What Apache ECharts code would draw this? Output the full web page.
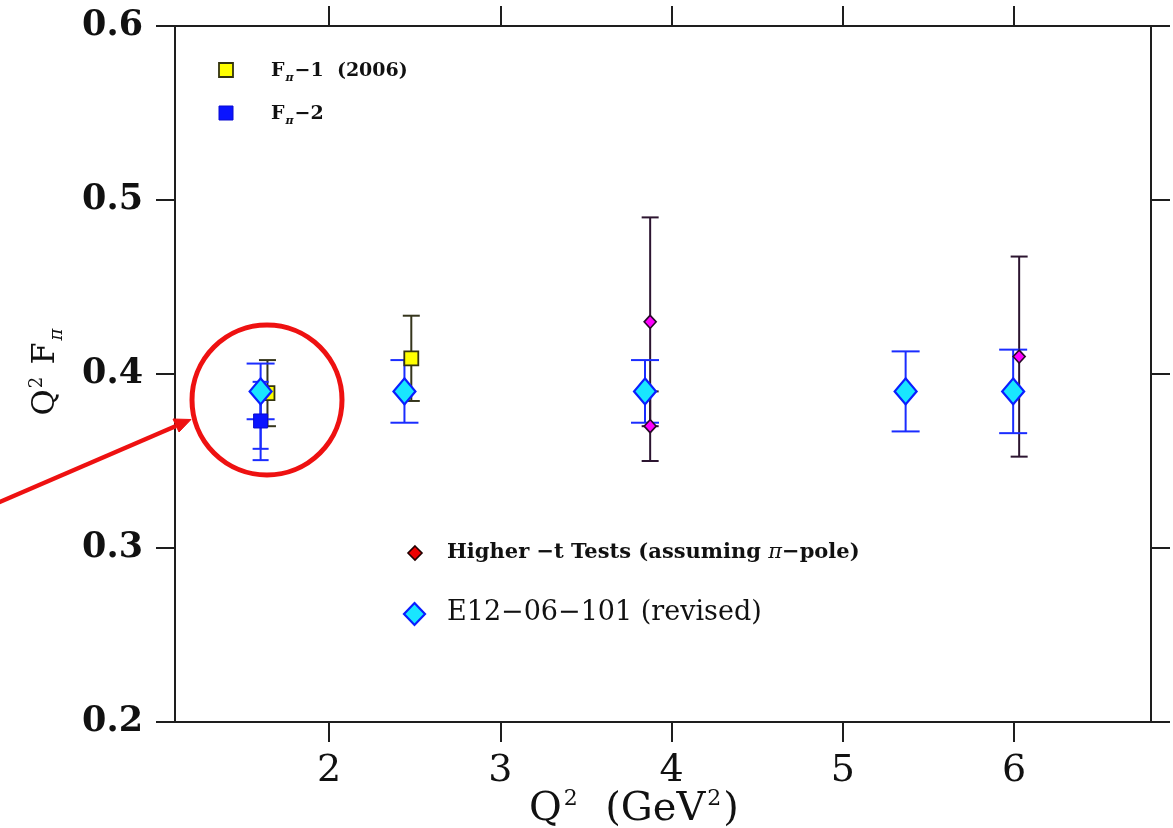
<!DOCTYPE html>
<html>
<head>
<meta charset="utf-8">
<title>Q2 F_pi</title>
<script src="https://cdn.jsdelivr.net/npm/echarts@6/dist/echarts.min.js"></script>
<style>
  html, body { margin: 0; padding: 0; background: #fff; }
  #chart { width: 1173px; height: 828px; }
</style>
</head>
<body>
<div id="chart"></div>
<script>
// Pion form factor Q^2 F_pi versus Q^2

// F_pi-1 (2006)
const fpi1Q2 = [1.64, 2.48];
const fpi1Val = [0.389, 0.409];
const fpi1Err = [0.019, 0.0245];

// F_pi-2 (inner and outer error bars)
const fpi2Q2 = [1.60];
const fpi2Val = [0.373];
const fpi2ErrInner = [0.016];
const fpi2ErrOuter = [0.0225];

// Higher -t tests (assuming pi-pole)
const highTQ2 = [3.875, 3.875, 6.03];
const highTVal = [0.430, 0.370, 0.410];
const highTErr = [0.060, 0.020, 0.0575];

// E12-06-101 (revised) projections
const e12Q2 = [1.60, 2.44, 3.845, 5.367, 5.995];
const e12Val = [0.390, 0.390, 0.390, 0.390, 0.390];
const e12Err = [0.016, 0.018, 0.018, 0.023, 0.024];

// axis ticks
const xTicks = [2, 3, 4, 5, 6];
const yTicks = [0.2, 0.3, 0.4, 0.5, 0.6];

const SERIF = '"DejaVu Serif", "Liberation Serif", serif';
const AXIS_COLOR = '#1e1e1e';

function points(xs, ys) {
  return xs.map((x, i) => [x, ys[i]]);
}
function bars(xs, ys, errs) {
  return xs.map((x, i) => [x, ys[i] - errs[i], ys[i] + errs[i]]);
}
function errorBars(cap, color, width) {
  return function (params, api) {
    const x = api.value(0);
    const lo = api.coord([x, api.value(1)]);
    const hi = api.coord([x, api.value(2)]);
    const style = { stroke: color, lineWidth: width };
    const h = cap / 2;
    return {
      type: 'group',
      children: [
        { type: 'line', shape: { x1: hi[0], y1: hi[1], x2: lo[0], y2: lo[1] }, style },
        { type: 'line', shape: { x1: hi[0] - h, y1: hi[1], x2: hi[0] + h, y2: hi[1] }, style },
        { type: 'line', shape: { x1: lo[0] - h, y1: lo[1], x2: lo[0] + h, y2: lo[1] }, style }
      ]
    };
  };
}
function errSeries(data, cap, color, width) {
  return {
    type: 'custom',
    renderItem: errorBars(cap, color, width),
    data: data,
    encode: { x: 0, y: [1, 2] },
    silent: true,
    clip: false
  };
}

const chart = echarts.init(document.getElementById('chart'), null, { renderer: 'canvas' });

const xAxisBase = {
  type: 'value',
  min: 1.1,
  max: 6.8,
  axisLine: { show: true, onZero: false, lineStyle: { color: AXIS_COLOR, width: 2 } },
  axisTick: { show: true, inside: false, length: 20, customValues: xTicks, lineStyle: { color: AXIS_COLOR, width: 2 } },
  splitLine: { show: false }
};
const yAxisBase = {
  type: 'value',
  min: yTicks[0],
  max: yTicks[yTicks.length - 1],
  interval: 0.1,
  axisLine: { show: true, onZero: false, lineStyle: { color: AXIS_COLOR, width: 2 } },
  axisTick: { show: true, inside: false, length: 19, lineStyle: { color: AXIS_COLOR, width: 2 } },
  splitLine: { show: false }
};

const subStyle = size => ({
  font: 'italic bold ' + size + 'px ' + SERIF,
  fill: '#111',
  padding: [Math.round(size * 1.4), 1, 0, 1]
});

const option = {
  backgroundColor: '#ffffff',
  animation: false,
  grid: { left: 175, right: 22, top: 26, bottom: 106, containLabel: false, outerBoundsMode: 'none' },
  xAxis: [
    Object.assign({}, xAxisBase, {
      position: 'bottom',
      axisLabel: {
        customValues: xTicks,
        margin: 30,
        color: '#111',
        fontFamily: SERIF,
        fontSize: 38,
        formatter: v => String(v)
      }
    }),
    Object.assign({}, xAxisBase, {
      position: 'top',
      axisLabel: { show: false }
    })
  ],
  yAxis: [
    Object.assign({}, yAxisBase, {
      position: 'left',
      axisLabel: {
        margin: 32,
        color: '#111',
        fontFamily: SERIF,
        fontWeight: 'bold',
        fontSize: 35,
        formatter: v => v.toFixed(1)
      }
    }),
    Object.assign({}, yAxisBase, {
      position: 'right',
      axisLabel: { show: false }
    })
  ],
  series: [
    errSeries(bars(fpi1Q2, fpi1Val, fpi1Err), 17, '#35351c', 2),
    {
      type: 'scatter',
      data: points(fpi1Q2, fpi1Val),
      symbol: 'rect',
      symbolSize: 14,
      itemStyle: { color: '#ffff00', borderColor: '#33330f', borderWidth: 1.8, opacity: 1 },
      silent: true
    },
    errSeries(bars(highTQ2, highTVal, highTErr), 17, '#2c1530', 2),
    {
      type: 'scatter',
      data: points(highTQ2, highTVal),
      symbol: 'diamond',
      symbolSize: [12, 13],
      itemStyle: { color: '#ff00ff', borderColor: '#2a0a2a', borderWidth: 1.6, opacity: 1 },
      silent: true
    },
    errSeries(bars(fpi2Q2, fpi2Val, fpi2ErrOuter), 16, '#1a2cff', 2),
    errSeries(bars(fpi2Q2, fpi2Val, fpi2ErrInner), 16, '#1a2cff', 2),
    {
      type: 'scatter',
      data: points(fpi2Q2, fpi2Val),
      symbol: 'rect',
      symbolSize: 14,
      itemStyle: { color: '#0a14ff', borderColor: '#0a0ad0', borderWidth: 1, opacity: 1 },
      silent: true
    },
    errSeries(bars(e12Q2, e12Val, e12Err), 28, '#1a2cff', 2),
    {
      type: 'scatter',
      data: points(e12Q2, e12Val),
      symbol: 'diamond',
      symbolSize: [22, 26],
      itemStyle: { color: '#19e6ff', borderColor: '#0a1eff', borderWidth: 2.2, opacity: 1 },
      silent: true
    }
  ],
  graphic: [
    // axis titles
    {
      type: 'text',
      x: 634, y: 810,
      style: {
        text: '{a|Q}{p|2}{a|  (GeV}{p|2}{a|)}',
        align: 'center',
        verticalAlign: 'middle',
        fill: '#111',
        rich: {
          a: { font: '40px ' + SERIF, fill: '#111' },
          p: { font: '22px ' + SERIF, fill: '#111', padding: [0, 2, 22, 2] }
        }
      }
    },
    {
      type: 'text',
      x: 46, y: 372,
      rotation: Math.PI / 2,
      style: {
        text: '{a|Q}{p|2}{a| F}{s|π}',
        align: 'center',
        verticalAlign: 'middle',
        fill: '#111',
        rich: {
          a: { font: '32px ' + SERIF, fill: '#111' },
          p: { font: '18px ' + SERIF, fill: '#111', padding: [0, 2, 18, 1] },
          s: { font: 'italic 18px ' + SERIF, fill: '#111', padding: [22, 0, 0, 2] }
        }
      }
    },
    // upper legend
    {
      type: 'rect',
      shape: { x: 219, y: 63, width: 14, height: 14 },
      style: { fill: '#ffff00', stroke: '#33330f', lineWidth: 1.8 }
    },
    {
      type: 'text',
      x: 271, y: 71,
      style: {
        text: '{a|F}{s|π}{a|−1  (2006)}',
        verticalAlign: 'middle',
        fill: '#111',
        rich: {
          a: { font: 'bold 19px ' + SERIF, fill: '#111' },
          s: subStyle(11)
        }
      }
    },
    {
      type: 'rect',
      shape: { x: 219, y: 106, width: 14, height: 14 },
      style: { fill: '#0a14ff', stroke: '#0a0ad0', lineWidth: 1 }
    },
    {
      type: 'text',
      x: 271, y: 114,
      style: {
        text: '{a|F}{s|π}{a|−2}',
        verticalAlign: 'middle',
        fill: '#111',
        rich: {
          a: { font: 'bold 19px ' + SERIF, fill: '#111' },
          s: subStyle(11)
        }
      }
    },
    // lower legend
    {
      type: 'polygon',
      shape: { points: [[415, 546], [422, 553], [415, 560], [408, 553]] },
      style: { fill: '#ee0000', stroke: '#220000', lineWidth: 1.6 }
    },
    {
      type: 'text',
      x: 447, y: 553,
      style: {
        text: '{a|Higher −t Tests (assuming }{g|π}{a|−pole)}',
        verticalAlign: 'middle',
        fill: '#111',
        rich: {
          a: { font: 'bold 21px ' + SERIF, fill: '#111' },
          g: { font: 'italic 21px ' + SERIF, fill: '#111' }
        }
      }
    },
    {
      type: 'polygon',
      shape: { points: [[414.5, 603], [425, 614], [414.5, 625], [404, 614]] },
      style: { fill: '#19e6ff', stroke: '#0a1eff', lineWidth: 2.2 }
    },
    {
      type: 'text',
      x: 447, y: 613,
      style: {
        text: 'E12−06−101 (revised)',
        font: '27px ' + SERIF,
        fill: '#111',
        verticalAlign: 'middle'
      }
    },
    // highlight circle and pointer arrow
    {
      type: 'circle',
      shape: { cx: 267, cy: 400, r: 75 },
      style: { fill: 'none', stroke: '#ee1111', lineWidth: 5 },
      z: 100
    },
    {
      type: 'line',
      shape: { x1: -5, y1: 504, x2: 176, y2: 426 },
      style: { stroke: '#ee1111', lineWidth: 4.5 },
      z: 100
    },
    {
      type: 'polygon',
      shape: { points: [[191, 419.5], [173, 419], [179, 432]] },
      style: { fill: '#ee1111', stroke: '#ee1111', lineWidth: 1 },
      z: 100
    }
  ]
};

chart.setOption(option);
</script>
</body>
</html>
